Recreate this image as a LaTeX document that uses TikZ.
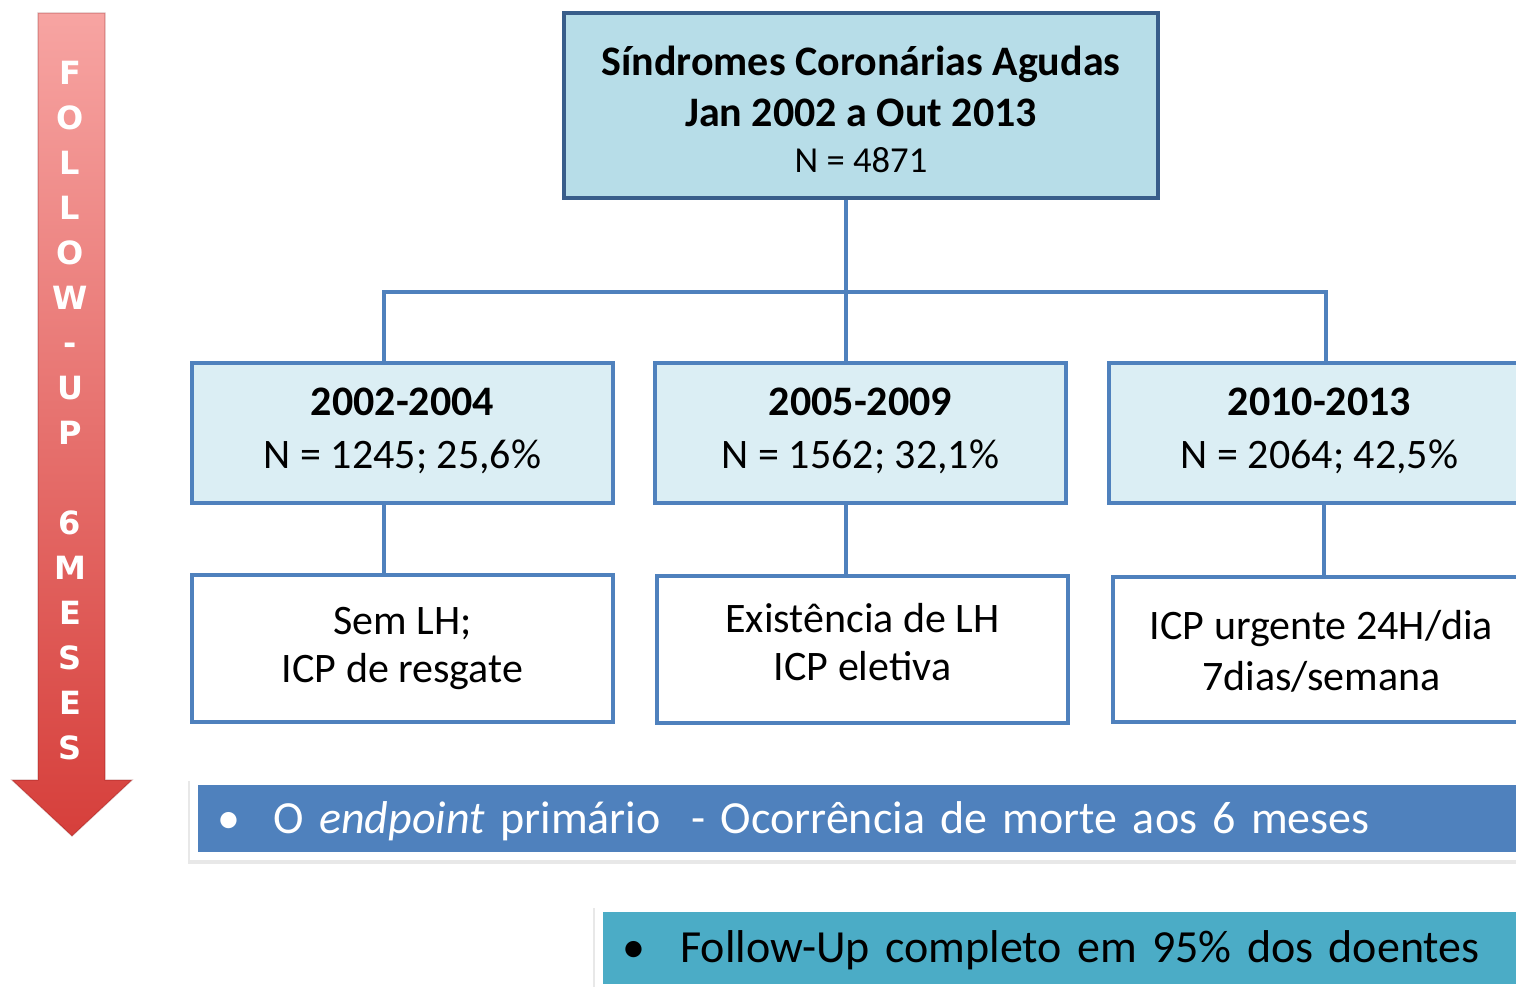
\documentclass[tikz,border=0pt]{standalone}
\usepackage{fontspec}
\setmainfont{Carlito}
\newfontfamily\arrowfont{DejaVu Sans}
\usetikzlibrary{positioning,fit,backgrounds,shadows}
\definecolor{topfill}{HTML}{B7DDE8}
\definecolor{topline}{HTML}{385D8A}
\definecolor{perfill}{HTML}{DBEEF4}
\definecolor{linkblue}{HTML}{4F81BD}
\definecolor{barteal}{HTML}{4BACC6}
\definecolor{arrowtop}{HTML}{F7A4A2}
\definecolor{arrowbot}{HTML}{D63F3B}

\begin{document}
\begin{tikzpicture}[x=0.5pt,y=-0.5pt,
    link/.style={draw=linkblue,line width=2pt},
    headbox/.style={draw=topline,line width=2pt,fill=topfill,align=center,
      minimum width=297pt,minimum height=92.5pt,text depth=8pt,text height=75.3pt,
      font=\fontsize{21}{25.5}\selectfont\bfseries},
    periodbox/.style={draw=linkblue,line width=1.8pt,fill=perfill,align=center,
      minimum height=70pt,text depth=8pt,text height=43.5pt,
      font=\fontsize{21}{26.5}\selectfont},
    notebox/.style={draw=linkblue,line width=1.8pt,fill=white,align=center,
      minimum height=73.5pt,text depth=8pt,font=\fontsize{21}{24}\selectfont},
    bar/.style={anchor=west,align=left,inner xsep=9.5pt,inner ysep=0pt,
      text height=20pt,text depth=5.5pt,font=\fontsize{23}{28}\selectfont},
    barframe/.style={fill=white,inner sep=4pt,
      drop shadow={opacity=0.18,shadow xshift=-1pt,shadow yshift=-2pt}},
    letter/.style={anchor=base,text=white,inner sep=0pt,
      font=\arrowfont\bfseries\fontsize{16}{16}\selectfont}]
  \useasboundingbox (0,0) rectangle (1516,986);

  % follow-up arrow
  \shade[top color=arrowtop,bottom color=arrowbot,draw=red!45!black,
    draw opacity=0.25,line width=0.6pt]
    (38,13) -- (105,13) -- (105,780) -- (132,780) -- (72,836)
    -- (12,780) -- (38,780) -- cycle;
  \foreach \ch/\k in {F/0,O/1,L/2,L/3,O/4,W/5,-/6,U/7,P/8,6/10,M/11,E/12,S/13,E/14,S/15}
    \node[letter] (l\k) at (70,84+45*\k) {\ch};

  % boxes
  \node[headbox] (acs) at (861,105.5)
    {S\'indromes Coron\'arias Agudas\\
     Jan 2002 a Out 2013\\[-2.3pt]
     {\mdseries\fontsize{18.3}{22}\selectfont N = 4871}};

  \node[periodbox,minimum width=210.5pt] (p1) at (402.5,433)
    {\textbf{2002-2004}\\N = 1245; 25,6\%};
  \node[periodbox,minimum width=205.5pt] (p2) at (860.5,433)
    {\textbf{2005-2009}\\N = 1562; 32,1\%};
  \node[periodbox,minimum width=210.5pt] (p3) at (1319.5,433)
    {\textbf{2010-2013}\\N = 2064; 42,5\%};

  \node[notebox,minimum width=210.5pt,text height=42pt] (d1) at (402.5,648.5)
    {Sem LH;\\ICP de resgate};
  \node[notebox,minimum width=205.5pt,text height=39pt] (d2) at (862.5,649.5)
    {Exist\^encia de LH\\ICP eletiva};
  \node[notebox,minimum width=208.5pt,minimum height=72.5pt,text height=49pt,
    font=\fontsize{21}{25.5}\selectfont] (d3) at (1321.5,649.5)
    {ICP urgente 24H/dia\\7dias/semana};

  % connectors
  \coordinate (hub) at (846,292);
  \coordinate (busL) at (384,292);
  \coordinate (busR) at (1326,292);
  \coordinate (dropR) at (1324,292);
  \draw[link] (acs.south -| hub) -- (hub |- p2.north);
  \draw[link] (busL |- p1.north) -- (busL) -- (busR) -- (busR |- p3.north);
  \draw[link] (p1.south -| busL) -- (busL |- d1.north);
  \draw[link] (p2.south -| hub) -- (hub |- d2.north);
  \draw[link] (p3.south -| dropR) -- (dropR |- d3.north);

  % bars
  \node[bar,fill=linkblue,text=white,minimum width=701pt,minimum height=33.5pt,
    text width=682pt] (endpt) at (198,818.5)
    {\makebox[28pt][l]{\textbullet}O \textit{endpoint} prim\'ario~ - Ocorr\^encia de morte aos 6 meses};
  \node[bar,fill=barteal,text=black,minimum width=498.5pt,minimum height=36pt,
    text width=479.5pt] (fup) at (603,948)
    {\makebox[29pt][l]{\textbullet}Follow-Up completo em 95\% dos doentes};
  \begin{pgfonlayer}{background}
    \node[barframe,fit=(endpt)] (endptframe) {};
    \node[barframe,fit=(fup)] (fupframe) {};
  \end{pgfonlayer}
\end{tikzpicture}
\end{document}
